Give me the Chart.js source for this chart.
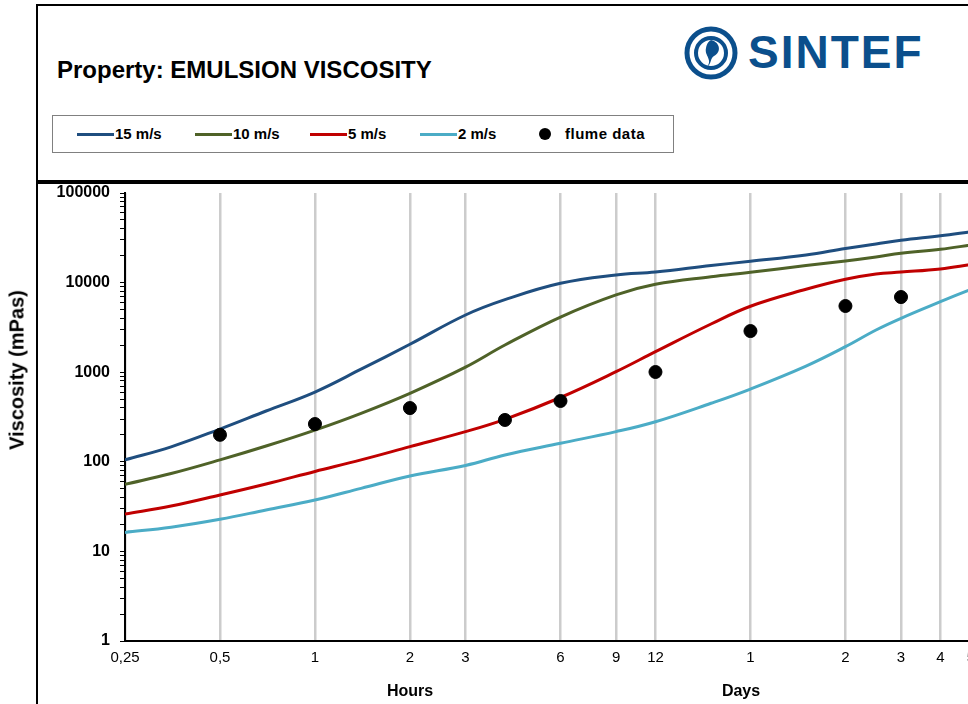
<!DOCTYPE html>
<html>
<head>
<meta charset="utf-8">
<script src="https://cdn.jsdelivr.net/npm/chart.js@4.4.1/dist/chart.umd.min.js"></script>
<style>
  html, body { margin:0; padding:0; background:#fff; overflow:hidden; width:968px; height:704px; }
  body { position:relative; font-family: Arial, "Liberation Sans", sans-serif; }
  #topBox { position:absolute; left:36px; top:4px; width:1000px; height:174px; border:2px solid #000; }
  #chartBox { position:absolute; left:36px; top:182px; width:1000px; height:520px; border:2px solid #000; border-bottom-color:#999; }
  #title { position:absolute; left:57px; top:56px; font-size:24px; font-weight:bold; color:#000; }
  #logo { position:absolute; left:684px; top:26px; }
  #logoText { position:absolute; left:748px; top:25px; font-size:46px; font-weight:900; color:#0b4f8c; letter-spacing:2px; }
  #legend { position:absolute; left:52px; top:115px; width:620px; height:36px; border:1px solid #808080; background:#fff; }
  .item { position:absolute; top:0; height:36px; line-height:36px; font-size:15px; font-weight:bold; color:#000; }
  .item .ln { position:absolute; top:17px; left:0; width:37px; height:3px; }
  .item span { position:absolute; left:38px; white-space:nowrap; }
  #chartCanvas { position:absolute; left:0; top:176px; }
  .xname { position:absolute; top:682px; font-size:16px; font-weight:bold; transform:translateX(-50%); }
  #yname { position:absolute; left:17px; top:370px; font-size:20px; font-weight:bold; white-space:nowrap; transform:translate(-50%, -50%) rotate(-90deg); }
</style>
</head>
<body>
<div id="topBox"></div>
<div id="chartBox"></div>
<div id="title">Property: EMULSION VISCOSITY</div>
<svg id="logo" width="56" height="56" viewBox="0 0 56 56">
  <circle cx="27" cy="27" r="24" fill="none" stroke="#0b4f8c" stroke-width="5"/>
  <circle cx="27" cy="27" r="15" fill="none" stroke="#0b4f8c" stroke-width="4"/>
  <path d="M27 14 C36 16 38 26 30 30 C26 32 28 38 22 42 C30 34 20 30 22 22 C23 17 25 15 27 14 Z" fill="#0b4f8c"/>
</svg>
<div id="logoText">SINTEF</div>
<div id="legend">
  <div class="item" style="left:24px"><div class="ln" style="background:#1f4e7f"></div><span>15 m/s</span></div>
  <div class="item" style="left:142px"><div class="ln" style="background:#4f6228"></div><span>10 m/s</span></div>
  <div class="item" style="left:257px"><div class="ln" style="background:#c00000"></div><span>5 m/s</span></div>
  <div class="item" style="left:367px"><div class="ln" style="background:#4bacc6"></div><span>2 m/s</span></div>
  <div class="item" style="left:486px"><div style="position:absolute;left:0;top:12px;width:12px;height:12px;border-radius:6px;background:#000"></div><span style="left:26px;letter-spacing:0.5px">flume data</span></div>
</div>
<canvas id="chartCanvas" width="1060" height="528"></canvas>
<div id="yname">Viscosity (mPas)</div>
<div class="xname" style="left:410px">Hours</div>
<div class="xname" style="left:741px">Days</div>
<script>
// time in hours
const hours  = [0.25, 0.35, 0.5, 0.7, 1, 1.4, 2, 3, 4, 6, 9, 12, 18, 24, 36, 48, 60, 72, 96, 120];
const wind15 = [105, 147, 232, 369, 601, 1080, 2050, 4350, 6450, 9820, 12160, 13130, 15520, 17300, 20320, 24000, 26970, 29700, 33400, 37000];
const wind10 = [56, 74, 105, 150, 226, 348, 582, 1140, 2013, 4130, 7300, 9580, 11640, 13030, 15520, 17420, 19300, 21240, 23540, 26300];
const wind5  = [26.1, 32.1, 42.6, 56.5, 78, 105, 147.5, 217, 298, 522, 1013, 1694, 3450, 5450, 8420, 10890, 12480, 13100, 14200, 15900];
const wind2  = [16.3, 18.6, 22.8, 29, 37.5, 50.5, 69.5, 91, 119, 161, 217, 280, 450, 649, 1170, 1926, 2960, 3997, 6120, 8420];

const flumeHours = [0.5, 1, 2, 4, 6, 12, 24, 48, 72];
const flumeVisc  = [200, 264, 398, 293, 477, 1005, 2880, 5480, 6900];

const xTicks = [0.25, 0.5, 1, 2, 3, 6, 9, 12, 24, 48, 72, 96, 120];
const xTickLabels = ['0,25', '0,5', '1', '2', '3', '6', '9', '12', '1', '2', '3', '4', '5'];
const yTicks = [1, 10, 100, 1000, 10000, 100000];

function pts(ys) {
  return hours.map((h, i) => ({x: h, y: ys[i]}));
}
function lineSet(label, color, ys) {
  return {
    label: label, data: pts(ys), borderColor: color, backgroundColor: color,
    borderWidth: 3, pointRadius: 0, showLine: true, tension: 0.4, order: 1
  };
}

const ctx = document.getElementById('chartCanvas');
new Chart(ctx, {
  type: 'scatter',
  data: {
    datasets: [
      lineSet('15 m/s', '#1f4e7f', wind15),
      lineSet('10 m/s', '#4f6228', wind10),
      lineSet('5 m/s', '#c00000', wind5),
      lineSet('2 m/s', '#4bacc6', wind2),
      {
        label: 'flume data',
        data: flumeHours.map((h, i) => ({x: h, y: flumeVisc[i]})),
        backgroundColor: '#000', borderColor: '#000', pointRadius: 6.5, showLine: false, order: 0
      }
    ]
  },
  options: {
    responsive: false,
    animation: false,
    layout: { padding: { top: 17, right: 19, left: 0, bottom: 0 } },
    plugins: { legend: { display: false }, tooltip: { enabled: false } },
    scales: {
      x: {
        type: 'logarithmic', min: 0.25, max: 200,
        afterBuildTicks: (s) => { s.ticks = xTicks.map(v => ({value: v})); },
        afterFit: (s) => { s.height = 63; s.paddingLeft = 0; s.paddingRight = 0; },
        ticks: {
          autoSkip: false, maxRotation: 0, padding: 8, color: '#000',
          font: { size: 15, family: 'Arial' },
          callback: (v) => { const i = xTicks.indexOf(v); return i >= 0 ? xTickLabels[i] : ''; }
        },
        grid: { color: '#cccccc', lineWidth: 2.5, drawTicks: false },
        border: { color: '#000', width: 2 }
      },
      y: {
        type: 'logarithmic', min: 1, max: 100000,
        afterBuildTicks: (s) => {
          const t = [];
          for (let e = 0; e < 5; e++) for (let m = 1; m < 10; m++) t.push({value: m * Math.pow(10, e)});
          t.push({value: 100000});
          s.ticks = t;
        },
        afterFit: (s) => { s.width = 125; s.paddingTop = 0; s.paddingBottom = 0; },
        ticks: {
          autoSkip: false, padding: 10, color: '#000',
          font: { size: 16, weight: 'bold', family: 'Arial' },
          callback: (v) => yTicks.includes(v) ? String(v) : ''
        },
        grid: { drawOnChartArea: false, drawTicks: true, tickLength: 5, tickColor: '#000', tickWidth: 1 },
        border: { color: '#000', width: 2 }
      }
    }
  }
});
</script>
</body>
</html>
